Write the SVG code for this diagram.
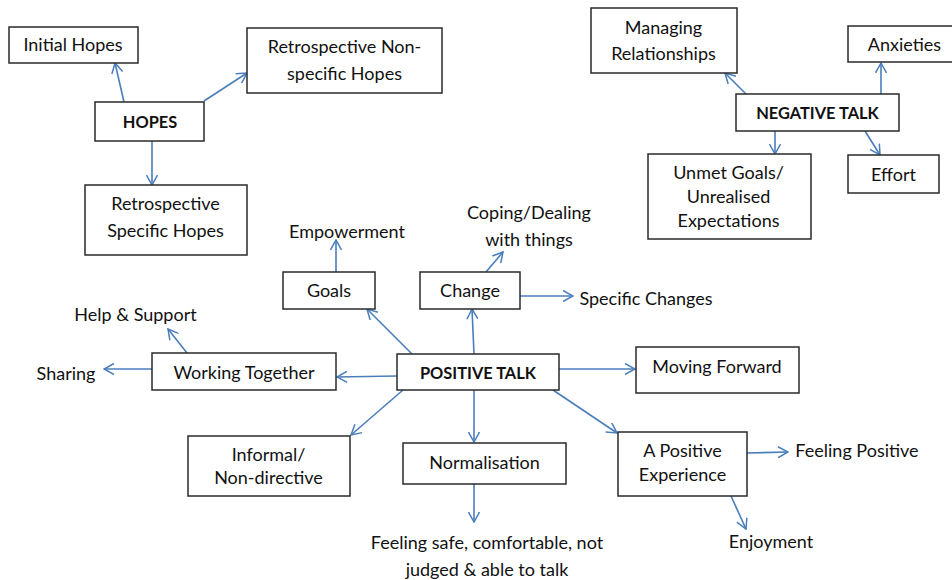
<svg xmlns="http://www.w3.org/2000/svg" width="952" height="580" viewBox="0 0 952 580">
<defs>
<marker id="arr" viewBox="0 0 12 12" markerWidth="12" markerHeight="12" refX="11" refY="6" orient="auto" markerUnits="userSpaceOnUse">
<path d="M1,0.5 L11,6 L1,11.5" fill="none" stroke="#4a7ebb" stroke-width="1.5"/>
</marker>
<style>
rect{fill:#fff;stroke:#2a2a2a;stroke-width:1.5}
text{font-family:Lato,"Liberation Sans",sans-serif;font-size:18px;fill:#111;text-anchor:middle}
.b{font-weight:bold;font-size:16.4px}
#connectors line{stroke:#4a7ebb;stroke-width:1.6;marker-end:url(#arr)}
</style>
</defs>
<rect x="0" y="0" width="952" height="580" style="fill:#fff;stroke:none"/>
<g id="connectors">
<line x1="124" y1="102" x2="115" y2="63"/>
<line x1="204" y1="101" x2="247" y2="73"/>
<line x1="152" y1="141" x2="152" y2="185"/>
<line x1="746" y1="94" x2="725" y2="73"/>
<line x1="881" y1="94" x2="881" y2="63"/>
<line x1="775" y1="131" x2="775" y2="154"/>
<line x1="865" y1="131" x2="880" y2="155"/>
<line x1="336" y1="272" x2="336" y2="240"/>
<line x1="412" y1="354" x2="367" y2="309"/>
<line x1="474" y1="354" x2="472" y2="309"/>
<line x1="486" y1="272" x2="503" y2="252"/>
<line x1="520" y1="296" x2="573" y2="296"/>
<line x1="397" y1="376" x2="337" y2="377"/>
<line x1="187" y1="353" x2="168" y2="329"/>
<line x1="152" y1="369" x2="104" y2="369"/>
<line x1="403" y1="390" x2="351" y2="435"/>
<line x1="474" y1="390" x2="474" y2="442"/>
<line x1="474" y1="484" x2="474" y2="522"/>
<line x1="559" y1="369" x2="635" y2="369"/>
<line x1="553" y1="390" x2="617" y2="433"/>
<line x1="747" y1="453" x2="788" y2="452"/>
<line x1="731" y1="496" x2="746" y2="529"/>
</g>
<g id="hopes"><rect x="95" y="102" width="109" height="39"/><text class="b" x="150" y="127.5">HOPES</text></g>
<g id="initial-hopes"><rect x="9" y="27" width="129" height="36"/><text x="73" y="51">Initial Hopes</text></g>
<g id="retro-nonspecific"><rect x="247" y="28" width="195" height="65"/><text x="344.5" y="53">Retrospective Non-</text><text x="344.5" y="80">specific Hopes</text></g>
<g id="retro-specific"><rect x="85" y="185" width="162" height="70"/><text x="165.5" y="210">Retrospective</text><text x="165.5" y="237">Specific Hopes</text></g>
<g id="negative-talk"><rect x="736" y="94" width="163" height="37"/><text class="b" x="817.5" y="119">NEGATIVE TALK</text></g>
<g id="managing"><rect x="591" y="8" width="146" height="65"/><text x="663.5" y="33.5">Managing</text><text x="663.5" y="59.5">Relationships</text></g>
<g id="anxieties"><rect x="848" y="26" width="110" height="36"/><text x="904.5" y="51">Anxieties</text></g>
<g id="unmet"><rect x="648" y="154" width="163" height="85"/><text x="728.5" y="179">Unmet Goals/</text><text x="728.5" y="203">Unrealised</text><text x="728.5" y="227">Expectations</text></g>
<g id="effort"><rect x="848" y="155" width="91" height="38"/><text x="893.5" y="181">Effort</text></g>
<g id="positive-talk"><rect x="397" y="354" width="162" height="36"/><text class="b" x="478" y="378.5">POSITIVE TALK</text></g>
<g id="goals"><rect x="283" y="272" width="92" height="37"/><text x="329" y="297">Goals</text></g>
<g id="empowerment"><text x="347" y="238">Empowerment</text></g>
<g id="change"><rect x="420" y="272" width="100" height="37"/><text x="470" y="297">Change</text></g>
<g id="coping"><text x="529" y="219">Coping/Dealing</text><text x="529" y="245.5">with things</text></g>
<g id="specific-changes"><text x="646" y="305">Specific Changes</text></g>
<g id="working-together"><rect x="152" y="353" width="184" height="37"/><text x="244" y="379">Working Together</text></g>
<g id="help-support"><text x="135.5" y="321">Help &amp; Support</text></g>
<g id="sharing"><text x="66" y="379.5">Sharing</text></g>
<g id="informal"><rect x="188" y="436" width="162" height="60"/><text x="268.5" y="461">Informal/</text><text x="268.5" y="484">Non-directive</text></g>
<g id="normalisation"><rect x="403" y="443" width="163" height="41"/><text x="484.5" y="469">Normalisation</text></g>
<g id="feeling-safe"><text x="487" y="549">Feeling safe, comfortable, not</text><text x="487" y="575.5">judged &amp; able to talk</text></g>
<g id="moving-forward"><rect x="636" y="347" width="163" height="46"/><text x="717" y="373">Moving Forward</text></g>
<g id="positive-experience"><rect x="618" y="432" width="129" height="64"/><text x="682.5" y="457">A Positive</text><text x="682.5" y="481">Experience</text></g>
<g id="feeling-positive"><text x="857" y="457">Feeling Positive</text></g>
<g id="enjoyment"><text x="771" y="548">Enjoyment</text></g>
</svg>
